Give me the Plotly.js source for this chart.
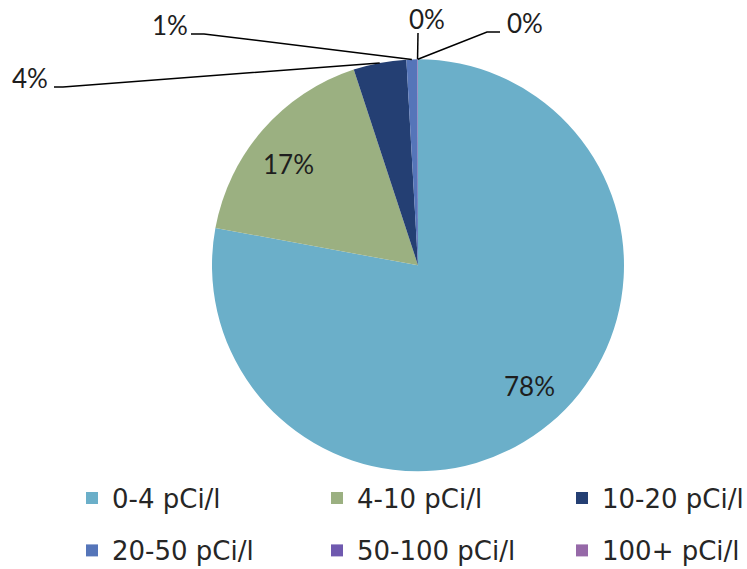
<!DOCTYPE html>
<html><head><meta charset="utf-8">
<script src="https://cdn.plot.ly/plotly-3.0.1.min.js"></script>
<style>html,body{margin:0;padding:0;background:#fff}#chart{width:747px;height:569px}</style>
</head><body><div id="chart"></div>
<script>
// ---- data ----
const categories = ['0-4 pCi/l', '4-10 pCi/l', '10-20 pCi/l', '20-50 pCi/l', '50-100 pCi/l', '100+ pCi/l'];
const shares = [77.9, 17.05, 4.15, 0.85, 0.03, 0.02];
const colors = ['#6BAFC9', '#9BB081', '#243F73', '#5575B9', '#6F59AF', '#9669A8'];

// ---- layout constants (pixels) ----
const W = 747, H = 569;
const pie = {cx: 418, cy: 265.3, r: 206};
const insideR = 0.8;
const insideAngleShift = -3 * Math.PI / 180;
const labelFont = {family: 'Lato, sans-serif', size: 26, color: '#1e1e1e'};
// outside labels for the thin slices: label centre, elbow, line end
const leaders = {
  2: {label: [30, 78], elbow: [63, 87], end: [54, 87]},
  3: {label: [170, 25], elbow: [204, 34], end: [191, 34]},
  4: {label: [427, 19], elbow: [418, 33], end: [418, 33]},
  5: {label: [525, 23], elbow: [487, 32], end: [500, 32]}
};

const px = x => x / W;
const py = y => 1 - y / H;

const total = shares.reduce((a, b) => a + b, 0);
let cum = 0;
const annotations = [], shapes = [];
shares.forEach((v, i) => {
  const f0 = cum / total; cum += v; const f1 = cum / total;
  const th = (f0 + f1) / 2 * 2 * Math.PI;
  const pctText = Math.round(v / total * 100) + '%';
  if (leaders[i]) {
    const L = leaders[i];
    const ax = pie.cx + pie.r * Math.sin(th), ay = pie.cy - pie.r * Math.cos(th);
    shapes.push({type: 'path', xref: 'paper', yref: 'paper',
      path: `M${px(ax)},${py(ay)} L${px(L.elbow[0])},${py(L.elbow[1])} L${px(L.end[0])},${py(L.end[1])}`,
      line: {color: '#000', width: 1.5}});
    annotations.push({xref: 'paper', yref: 'paper', x: px(L.label[0]), y: py(L.label[1]),
      text: pctText, showarrow: false, font: labelFont, xanchor: 'center', yanchor: 'middle'});
  } else {
    const t = th + insideAngleShift;
    const tx = pie.cx + insideR * pie.r * Math.sin(t), ty = pie.cy - insideR * pie.r * Math.cos(t);
    annotations.push({xref: 'paper', yref: 'paper', x: px(tx), y: py(ty),
      text: pctText, showarrow: false, font: labelFont, xanchor: 'center', yanchor: 'middle'});
  }
});

const legendLabels = categories.map(c => `<span style="font-size:26px;baseline-shift:5px">${c}</span>`);

const trace = {
  type: 'pie',
  labels: legendLabels,
  values: shares,
  sort: false,
  direction: 'clockwise',
  rotation: 0,
  marker: {colors: colors, line: {width: 0}},
  textinfo: 'none',
  hoverinfo: 'none',
  domain: {x: [px(pie.cx - pie.r), px(pie.cx + pie.r)], y: [py(pie.cy + pie.r), py(pie.cy - pie.r)]}
};

const layout = {
  width: W, height: H,
  margin: {l: 0, r: 0, t: 0, b: 0, autoexpand: false},
  paper_bgcolor: '#fff',
  showlegend: true,
  legend: {orientation: 'h', x: px(72), xanchor: 'left', y: py(466.8), yanchor: 'top',
    font: {family: 'DejaVu Sans, sans-serif', size: 38, color: '#262626'},
    entrywidth: 200, entrywidthmode: 'pixels', bgcolor: 'rgba(0,0,0,0)'},
  annotations: annotations,
  shapes: shapes
};

Plotly.newPlot('chart', [trace], layout, {staticPlot: true, displayModeBar: false});
</script></body></html>
